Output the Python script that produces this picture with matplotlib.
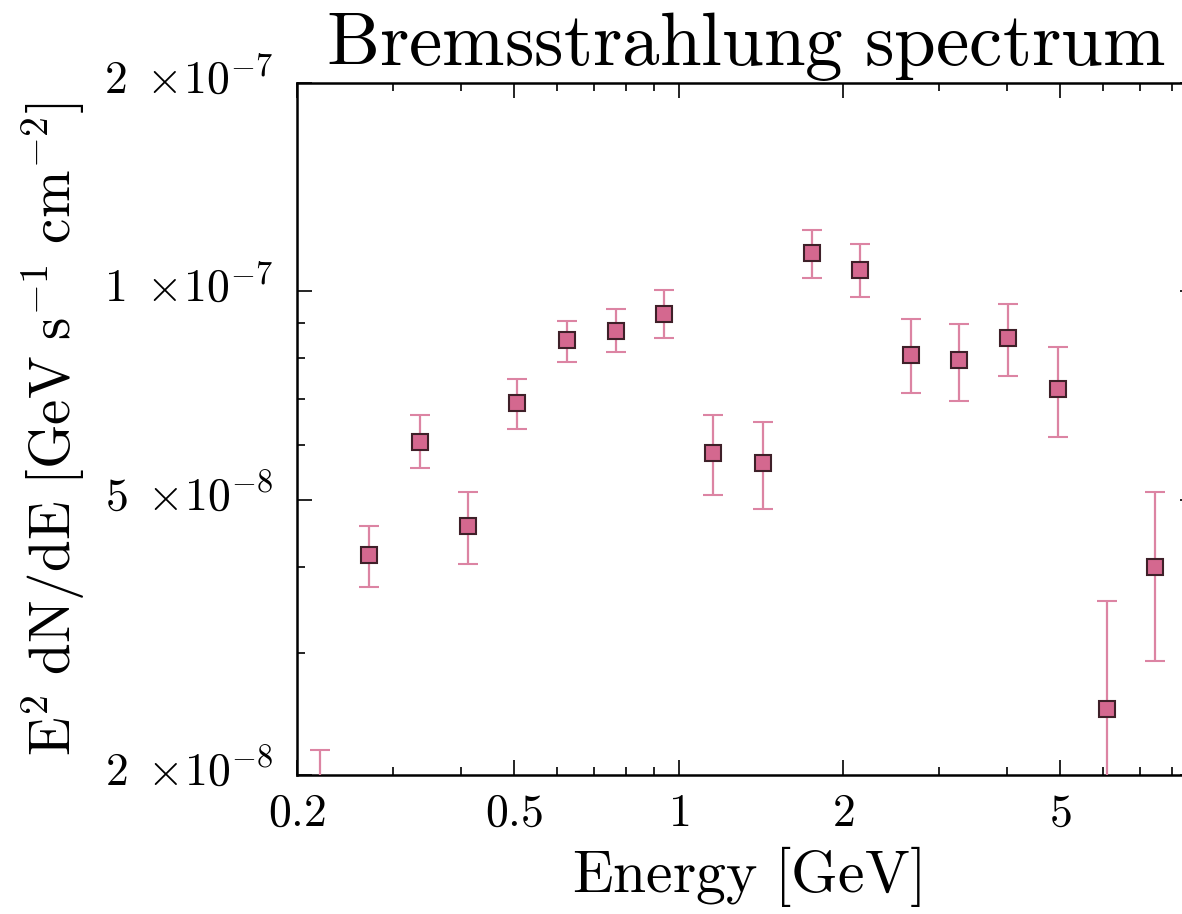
import numpy as np
import matplotlib
matplotlib.use('Agg')
import matplotlib.pyplot as plt
import matplotlib.transforms as mtransforms
from matplotlib.ticker import FixedLocator, FixedFormatter, NullFormatter

plt.rcParams['mathtext.fontset'] = 'cm'
plt.rcParams['font.family'] = 'serif'
plt.rcParams['font.serif'] = ['cmr10', 'DejaVu Serif']
plt.rcParams['axes.unicode_minus'] = False

# data
energy = [0.2204, 0.271, 0.336, 0.411, 0.506, 0.625, 0.768, 0.940, 1.156,
          1.427, 1.755, 2.148, 2.664, 3.262, 4.012, 4.952, 6.088, 7.454]
flux = [1.70e-8, 4.16e-8, 6.06e-8, 4.58e-8, 6.90e-8, 8.51e-8, 8.76e-8, 9.27e-8, 5.84e-8,
        5.65e-8, 1.136e-7, 1.074e-7, 8.09e-8, 7.96e-8, 8.56e-8, 7.22e-8, 2.49e-8, 4.00e-8]
flux_hi = [2.17e-8, 4.58e-8, 6.63e-8, 5.13e-8, 7.47e-8, 9.06e-8, 9.43e-8, 1.004e-7, 6.63e-8,
           6.47e-8, 1.226e-7, 1.171e-7, 9.12e-8, 8.97e-8, 9.58e-8, 8.31e-8, 3.57e-8, 5.13e-8]
flux_lo = [1.25e-8, 3.74e-8, 5.55e-8, 4.04e-8, 6.32e-8, 7.91e-8, 8.17e-8, 8.56e-8, 5.08e-8,
           4.85e-8, 1.045e-7, 9.81e-8, 7.13e-8, 6.94e-8, 7.54e-8, 6.16e-8, 1.50e-8, 2.92e-8]

xticks = [0.2, 0.5, 1, 2, 5]
xticklabels = [r'$0.2$', r'$0.5$', r'$1$', r'$2$', r'$5$']
yticks = [2e-8, 5e-8, 1e-7, 2e-7]
yticklabels = [r'$2\;\times\!10^{-8}$', r'$5\;\times\!10^{-8}$',
               r'$1\;\times\!10^{-7}$', r'$2\;\times\!10^{-7}$']

flux = np.array(flux)
yerr = [flux - np.array(flux_lo), np.array(flux_hi) - flux]

fig = plt.figure(figsize=(11.82, 9.14), dpi=100)
ax = fig.add_axes([297/1182, 139/914, 898/1182, 692/914])

ax.errorbar(energy, flux, yerr=yerr, fmt='s', color='#d4688f', ecolor='#dc84a3',
            elinewidth=1.6, capsize=7, capthick=1.6, ms=12,
            mec='#3f2029', mew=1.5, zorder=3)

ax.set_xscale('log')
ax.set_yscale('log')
ax.set_xlim(0.2, 8.83)
ax.set_ylim(2e-8, 2e-7)

ax.xaxis.set_major_locator(FixedLocator(xticks))
ax.xaxis.set_major_formatter(FixedFormatter(xticklabels))
ax.xaxis.set_minor_locator(FixedLocator([0.3, 0.4, 0.6, 0.7, 0.8, 0.9, 3, 4, 6, 7, 8]))
ax.xaxis.set_minor_formatter(NullFormatter())
ax.yaxis.set_major_locator(FixedLocator(yticks))
ax.yaxis.set_major_formatter(FixedFormatter(yticklabels))
ax.yaxis.set_minor_locator(FixedLocator([3e-8, 4e-8, 6e-8, 7e-8, 8e-8, 9e-8]))
ax.yaxis.set_minor_formatter(NullFormatter())

ax.tick_params(which='both', direction='in', top=True, right=True, width=1.2)
ax.tick_params(which='major', length=11, labelsize=33)
ax.tick_params(axis='x', which='major', pad=13)
ax.tick_params(axis='y', which='major', pad=17)
ax.tick_params(which='minor', length=6)
for s in ax.spines.values():
    s.set_linewidth(1.8)

# lift the y tick labels so the mantissa sits on the tick
lift = mtransforms.ScaledTranslation(0, 8/100, fig.dpi_scale_trans)
for t in ax.yaxis.get_major_ticks():
    t.label1.set_transform(t.label1.get_transform() + lift)

ax.set_xlabel(r'$\mathrm{Energy\ [GeV]}$', fontsize=43, labelpad=7)
ax.set_ylabel(r'$\mathrm{E^2\ dN/dE\ [GeV\ s^{-1}\ cm^{-2}]}$', fontsize=41, labelpad=12)
ax.set_title(r'$\mathrm{Bremsstrahlung\ spectrum}$', fontsize=54, pad=12)

fig.savefig('out.png', dpi=100)
